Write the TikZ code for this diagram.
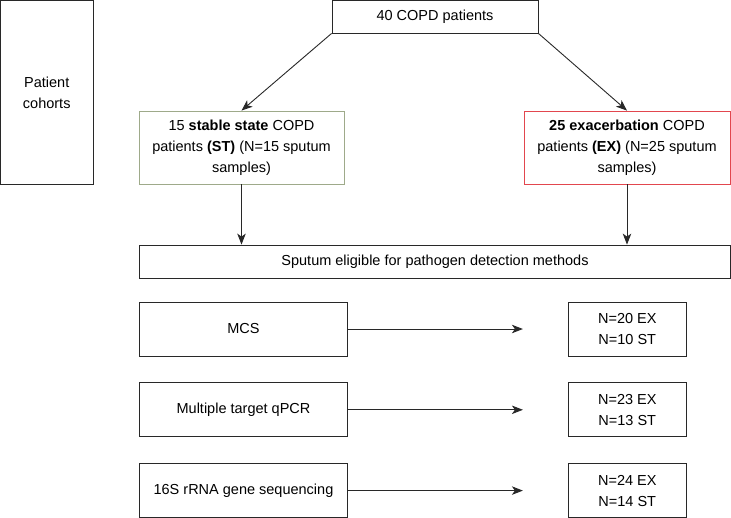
\documentclass[tikz,border=0pt]{standalone}
\usepackage{fontspec}
\setmainfont{Liberation Sans}
\usepackage{tikz}
\usetikzlibrary{shapes.geometric, arrows.meta, positioning, calc}
\definecolor{stgreen}{RGB}{158,170,138}
\definecolor{exred}{RGB}{226,70,78}
\definecolor{boxgray}{RGB}{40,40,40}
\tikzstyle{arrow} = [line width=0.9pt,-{Stealth[length=11pt,width=8.5pt,inset=3pt]},draw=boxgray]
\tikzstyle{box} = [rectangle, draw=boxgray, line width=0.8pt, fill=white, text centered, align=center, inner sep=0pt, font=\fontsize{14.5}{21}\selectfont]
\tikzstyle{result} = [box, minimum width=118pt, minimum height=54pt]
\tikzstyle{method} = [box, minimum width=208pt, minimum height=54pt]

\begin{document}
\begin{tikzpicture}[x=1pt, y=-1pt]
    \useasboundingbox (0,0) rectangle (731,517);

    % Cohort level
    \node[box, minimum width=92.5pt, minimum height=184pt] (cohorts) at (46.75,92.5) {Patient\\cohorts};
    \node[box, minimum width=206pt, minimum height=32.5pt] (all) at (435,16.75) {40 COPD patients};
    \node[box, draw=stgreen, minimum width=205pt, minimum height=73pt] (stable) at (241.5,147.5)
        {15 \textbf{stable state} COPD\\patients \textbf{(ST)} (N=15 sputum\\samples)};
    \node[box, draw=exred, minimum width=206pt, minimum height=73pt] (exac) at (627,147.5)
        {\textbf{25 exacerbation} COPD\\patients \textbf{(EX)} (N=25 sputum\\samples)};
    \node[box, minimum width=591pt, minimum height=33pt] (sputum) at (435,261.5)
        {Sputum eligible for pathogen detection methods};

    % Detection methods
    \node[method] (mcs) at (243.5,329) {MCS};
    \node[method, below=26pt of mcs] (qpcr) {Multiple target qPCR};
    \node[method, below=26pt of qpcr] (seq) {16S rRNA gene sequencing};

    \node[result, right=220pt of mcs] (mcsres) {N=20 EX\\N=10 ST};
    \node[result, right=220pt of qpcr] (qpcrres) {N=23 EX\\N=13 ST};
    \node[result, right=220pt of seq] (seqres) {N=24 EX\\N=14 ST};

    % Arrows
    \draw[arrow] (all.south west) -- (stable.north);
    \draw[arrow] (all.south east) -- (exac.north);
    \draw[arrow] (stable.south) -- (stable.south |- sputum.north);
    \draw[arrow] (exac.south) -- (exac.south |- sputum.north);
    \draw[arrow, shorten >=45pt] (mcs) -- (mcsres);
    \draw[arrow, shorten >=45pt] (qpcr) -- (qpcrres);
    \draw[arrow, shorten >=45pt] (seq) -- (seqres);

\end{tikzpicture}
\end{document}
